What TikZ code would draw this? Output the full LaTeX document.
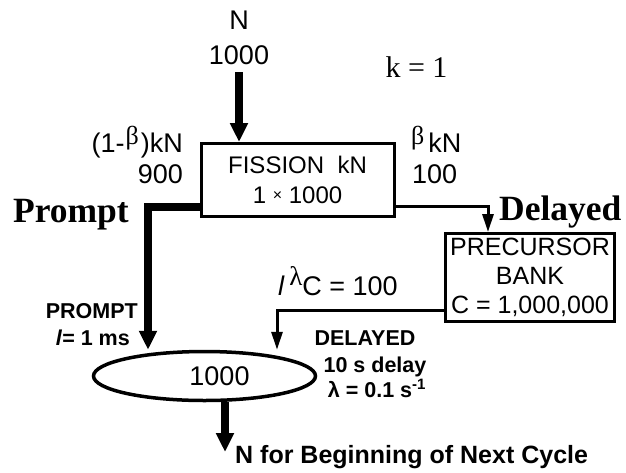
\documentclass[tikz,border=0pt]{standalone}
\usepackage{fontspec}
\setmainfont{Liberation Sans}
\newfontfamily\timesfont{Liberation Serif}
\usetikzlibrary{arrows.meta,shapes.geometric}

\newcommand{\grk}[3][8pt]{\raisebox{#1}{\timesfont\fontsize{#2}{#2}\selectfont #3}}

\begin{document}
\begin{tikzpicture}[x=1pt,y=-1pt,font=\fontsize{27}{31}\selectfont,
	every node/.style={inner sep=0pt},
	box/.style={draw,line width=3pt,align=center},
	fat/.style={line width=7.5pt,-{Triangle[width=17pt,length=19pt]}},
	slim/.style={line width=3pt,-{Triangle[width=11pt,length=18pt]}},
	tag/.style={font=\fontsize{21.5}{25}\selectfont\bfseries},
	serifbig/.style={font=\fontsize{35.5}{40}\selectfont\timesfont\bfseries}]
		\useasboundingbox (0,0) rectangle (626,472);
		\path
		(148,207) coordinate (pturn)
		(488,206) coordinate (dturn)
		(277,310) coordinate (bturn)
		(225,452) coordinate (nout)
		;
		% boxes
		\node[box,minimum width=193pt,minimum height=73pt,font=\fontsize{24}{30}\selectfont] (fission) at (297.5,180)
			{FISSION\ \ kN\\1 \raisebox{3pt}{\fontsize{16}{16}\selectfont ×} 1000};
		\node[box,minimum width=169pt,minimum height=88pt,font=\fontsize{25}{29}\selectfont] (bank) at (530,277.5)
			{PRECURSOR\\BANK\\C = 1,000,000};
		\node[draw,ellipse,line width=3.5pt,minimum width=222pt,minimum height=49pt,
			label={[xshift=15pt]center:1000}] (pool) at (204.5,376) {};
		% labels
		\node[align=center,inner ysep=7pt] (ntop) at (239,38) {N\\[4pt]1000};
		\node[anchor=base east] (pfrac) at (183,152) {(1-\kern1pt\grk{26}{β}\kern2pt)kN};
		\node[anchor=base east] (pval) at (183,183) {900};
		\node[anchor=base west] (dfrac) at (411,152) {\grk{26}{β}\kern4pt kN};
		\node[anchor=base west] (dval) at (412,183) {100};
		\node[font=\fontsize{30}{34}\selectfont\timesfont] (kval) at (416.5,66.7) {k = 1};
		\node[serifbig,anchor=base east] (plbl) at (129,222) {Prompt};
		\node[serifbig,anchor=base west] (dlbl) at (499,220) {Delayed};
		\node[anchor=base west] (lamc) at (278,295) {\textit{l}\,\grk[10pt]{27}{λ}C = 100};
		\node[tag,anchor=base east] (ptag) at (138,318) {PROMPT};
		\node[tag,anchor=base east] (ptime) at (130,345) {\textit{l}= 1 ms};
		\node[tag,anchor=base] (dtag) at (365,345) {DELAYED};
		\node[tag,anchor=base] (dtime) at (375,372) {10 s delay};
		\node[tag,anchor=base] (drate) at (377,397) {λ = 0.1 s\textsuperscript{-1}};
		\node[font=\fontsize{25}{29}\selectfont\bfseries,anchor=base west] (next) at (235,463) {N for Beginning of Next Cycle};
		% flows
		\draw[fat] (ntop.south) -- (ntop.south |- fission.north);
		\draw[fat] (pturn -| fission.west) -- (pturn) -- (pturn |- pool.north);
		\draw[slim] (dturn -| fission.east) -- (dturn) -- (dturn |- bank.north);
		\draw[slim] (bturn -| bank.west) -- (bturn) -- (bturn |- pool.north);
		\draw[fat] (nout |- pool.south) -- (nout);
	
\end{tikzpicture}
\end{document}
